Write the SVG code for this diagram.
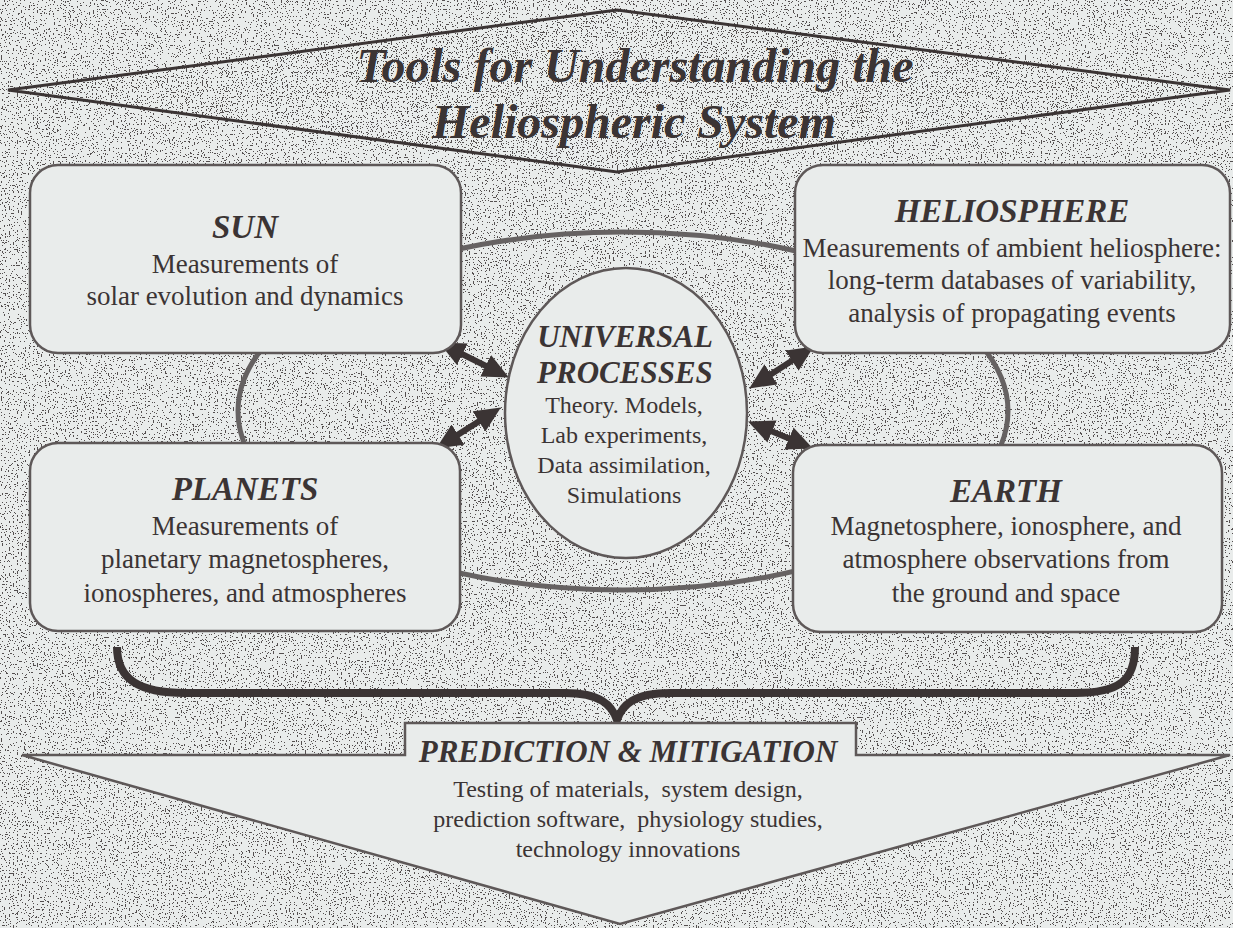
<svg xmlns="http://www.w3.org/2000/svg" width="1233" height="928" viewBox="0 0 1233 928">
<defs>
  <filter id="stip" x="0" y="0" width="100%" height="100%" color-interpolation-filters="sRGB">
    <feTurbulence type="fractalNoise" baseFrequency="0.75" numOctaves="1" seed="4" result="n"/>
    <feColorMatrix in="n" type="matrix" values="0 0 0 0 0.33  0 0 0 0 0.31  0 0 0 0 0.31  10 0 0 0 -5.85" result="m"/>
    <feComponentTransfer in="m" result="t"><feFuncA type="discrete" tableValues="0 1"/></feComponentTransfer>
    <feComposite in="t" in2="SourceGraphic" operator="in" result="d"/>
    <feMerge><feMergeNode in="SourceGraphic"/><feMergeNode in="d"/></feMerge>
  </filter>
  <filter id="stipDense" x="0" y="0" width="100%" height="100%" color-interpolation-filters="sRGB">
    <feTurbulence type="fractalNoise" baseFrequency="0.8" numOctaves="1" seed="9" result="n"/>
    <feColorMatrix in="n" type="matrix" values="0 0 0 0 0.33  0 0 0 0 0.31  0 0 0 0 0.31  10 0 0 0 -5.6" result="m"/>
    <feComponentTransfer in="m" result="t"><feFuncA type="discrete" tableValues="0 1"/></feComponentTransfer>
    <feComposite in="t" in2="SourceGraphic" operator="in" result="d"/>
    <feMerge><feMergeNode in="SourceGraphic"/><feMergeNode in="d"/></feMerge>
  </filter>
  <marker id="ah" viewBox="0 0 26 24" markerUnits="userSpaceOnUse" markerWidth="26" markerHeight="24" refX="15" refY="12" orient="auto-start-reverse">
    <path d="M0,0 L26,12 L0,24 Z" fill="#3b3434"/>
  </marker>
  <style>
    .light { fill: #e9eceb; }
    .box { fill: #e9eceb; stroke: #5e5858; stroke-width: 2.5; }
    .hdr { font-family: "Liberation Serif", "Times New Roman", serif; font-weight: bold; font-style: italic; fill: #3b3434; text-anchor: middle; }
    .body { font-family: "Liberation Serif", "Times New Roman", serif; fill: #3b3434; text-anchor: middle; white-space: pre; }
    .b27 { font-size: 27px; }
    .b24 { font-size: 24px; }
    .h33 { font-size: 33px; }
    .h31 { font-size: 31px; }
    .arrow { stroke: #3b3434; stroke-width: 6; fill: none; marker-start: url(#ah); marker-end: url(#ah); }
  </style>
</defs>

<rect x="0" y="0" width="1233" height="928" class="light" filter="url(#stip)"/>

<g id="title">
  <polygon points="8,90 617,10 1230,90 617,172" class="light" filter="url(#stipDense)"/>
  <polygon points="8,90 617,10 1230,90 617,172" fill="none" stroke="#3b3434" stroke-width="3" stroke-linejoin="miter"/>
  <text x="635" y="82" class="hdr" font-size="48">Tools for Understanding the</text>
  <text x="634" y="138" class="hdr" font-size="48">Heliospheric System</text>
</g>

<g id="connectors">
  <ellipse cx="623" cy="411" rx="385" ry="179" fill="none" stroke="#666262" stroke-width="5"/>
  <line x1="448.9" y1="347.5" x2="499.1" y2="372.5" class="arrow"/>
  <line x1="445.4" y1="442.6" x2="491.6" y2="413.4" class="arrow"/>
  <line x1="804.6" y1="352.5" x2="758.4" y2="382.5" class="arrow"/>
  <line x1="758.2" y1="425.8" x2="802.8" y2="444.2" class="arrow"/>
  <path d="M 117 647 C 117 680 140 693 185 693 L 565 693 C 600 693 612 705 617 720 C 622 705 634 693 670 693 L 1075 693 C 1120 693 1135 680 1135 647" fill="none" stroke="#3b3434" stroke-width="8"/>
</g>

<g id="prediction">
  <polygon points="22,755 405,755 405,723 856,723 856,755 1230,755 620,924" class="box"/>
  <text x="628" y="762" class="hdr h31">PREDICTION &amp; MITIGATION</text>
  <text x="628" y="797" class="body b24">Testing of materials,  system design,</text>
  <text x="628" y="827" class="body b24">prediction software,  physiology studies,</text>
  <text x="628" y="857" class="body b24">technology innovations</text>
</g>

<g id="sun">
  <rect x="30" y="165" width="431" height="188" rx="28" class="box"/>
  <text x="245" y="238" class="hdr h33">SUN</text>
  <text x="245" y="273" class="body b27">Measurements of</text>
  <text x="245" y="305" class="body b27">solar evolution and dynamics</text>
</g>

<g id="heliosphere">
  <rect x="795" y="165" width="435" height="188" rx="28" class="box"/>
  <text x="1012" y="222" class="hdr h33">HELIOSPHERE</text>
  <text x="1012" y="257" class="body b27">Measurements of ambient heliosphere:</text>
  <text x="1012" y="289" class="body b27">long-term databases of variability,</text>
  <text x="1012" y="322" class="body b27">analysis of propagating events</text>
</g>

<g id="planets">
  <rect x="30" y="443" width="430" height="188" rx="28" class="box"/>
  <text x="245" y="500" class="hdr h33">PLANETS</text>
  <text x="245" y="535" class="body b27">Measurements of</text>
  <text x="245" y="568" class="body b27">planetary magnetospheres,</text>
  <text x="245" y="602" class="body b27">ionospheres, and atmospheres</text>
</g>

<g id="earth">
  <rect x="793" y="445" width="429" height="187" rx="28" class="box"/>
  <text x="1006" y="502" class="hdr h33">EARTH</text>
  <text x="1006" y="535" class="body b27">Magnetosphere, ionosphere, and</text>
  <text x="1006" y="568" class="body b27">atmosphere observations from</text>
  <text x="1006" y="602" class="body b27">the ground and space</text>
</g>

<g id="universal">
  <ellipse cx="626" cy="413" rx="121" ry="145" class="box"/>
  <text x="625" y="347" class="hdr h31">UNIVERSAL</text>
  <text x="625" y="383" class="hdr h31">PROCESSES</text>
  <text x="624" y="413" class="body b24">Theory. Models,</text>
  <text x="624" y="443" class="body b24">Lab experiments,</text>
  <text x="624" y="473" class="body b24">Data assimilation,</text>
  <text x="624" y="503" class="body b24">Simulations</text>
</g>
</svg>
